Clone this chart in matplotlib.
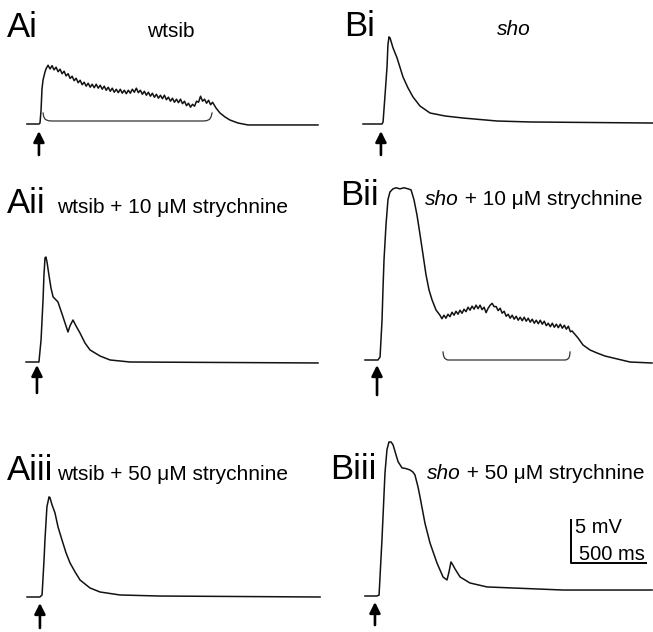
import numpy as np
import matplotlib.pyplot as plt

plt.rcParams["font.family"] = ["Liberation Sans", "DejaVu Sans"]

W, H = 653, 632
MS_PER_PX = 500 / 76      # from the 500 ms scale bar
MV_PER_PX = 5 / 44        # from the 5 mV scale bar
DT = 13.2                 # ms between samples in the noisy stretches

# ---------------- traces: time (ms, from stimulus), voltage (mV, from rest)
# Ai  wtsib
ai_rise_t = [-86, -7, 0, 7, 13, 20, 33, 40]
ai_rise_v = [0, 0, 0.11, 1.59, 3.98, 5.0, 5.92, 6.28]
ai_noisy_t0 = 53
ai_noisy_v = [6.68, 6.26, 6.63, 6.15, 6.46, 5.94, 6.23, 5.71, 6.00, 5.46,
              5.72, 5.18, 5.43, 4.92, 5.20, 4.69, 4.97, 4.46, 4.75, 4.30,
              4.64, 4.18, 4.52, 4.12, 4.52, 4.07, 4.41, 3.95, 4.30, 3.83,
              4.18, 3.72, 4.07, 3.61, 3.95, 3.56, 3.95, 3.50, 3.84, 3.44,
              3.84, 3.50, 3.95, 3.61, 4.07, 3.56, 3.84, 3.38, 3.72, 3.27,
              3.61, 3.16, 3.50, 3.04, 3.38, 2.93, 3.27, 2.87, 3.27, 2.76,
              3.05, 2.59, 2.93, 2.47, 2.82, 2.42, 2.82, 2.31, 2.59, 2.08,
              2.36, 1.91, 2.24, 2.02, 2.59, 2.47, 3.16, 2.59, 2.82, 2.36,
              2.70, 2.19, 2.47]
ai_tail_t = [1158, 1184, 1217, 1250, 1303, 1369, 1829]
ai_tail_v = [1.82, 1.25, 0.80, 0.45, 0.11, -0.11, -0.11]
ai_bracket_t = [20, 25, 35, 55, 79, 1066, 1095, 1115, 1125, 1132]
ai_bracket_v = [1.25, 0.80, 0.52, 0.37, 0.34, 0.34, 0.37, 0.52, 0.80, 1.25]

# Bi  sho
bi_t = [-125, 0, 7, 20, 33, 39, 46, 53, 72, 99, 138, 171, 204, 250, 316,
        415, 533, 757, 974, 1783]
bi_v = [0, 0, 0.23, 3.30, 6.48, 8.99, 9.90, 9.78, 8.67, 7.51, 5.35, 4.10,
        3.07, 2.04, 1.25, 0.91, 0.68, 0.34, 0.23, 0.11]

# Aii  wtsib + 10 uM strychnine
aii_t = [-92, -7, 7, 20, 26, 33, 39, 46, 59, 72, 86, 118, 145, 171, 184,
         197, 217, 237, 263, 296, 329, 395, 461, 592, 1829]
aii_v = [0, 0, 2.51, 7.06, 9.86, 11.85, 11.93, 11.38, 9.86, 8.43, 7.40,
         6.83, 5.46, 4.10, 3.41, 4.10, 4.77, 4.10, 3.30, 2.16, 1.37, 0.68,
         0.23, 0, -0.11]

# Bii  sho + 10 uM strychnine
bii_rise_t = [-92, -7, 7, 20, 26, 33, 46, 59, 72, 92, 112, 138, 164, 191,
              211, 230, 250, 270, 290, 309, 329, 349, 375]
bii_rise_v = [0, 0, 0.34, 4.55, 7.96, 11.38, 15.35, 18.22, 19.09, 19.45,
              19.57, 19.45, 19.57, 19.45, 19.33, 18.22, 16.47, 14.24, 11.93,
              9.71, 7.96, 6.83, 5.69]
bii_noisy_t0 = 401
bii_noisy_v = [5.09, 4.69, 5.09, 4.75, 5.20, 4.92, 5.43, 5.09, 5.54, 5.20,
               5.66, 5.31, 5.77, 5.49, 6.00, 5.66, 6.12, 5.78, 6.23, 5.83,
               6.23, 5.72, 6.00, 5.38, 5.88, 6.22, 6.44, 6.06, 6.08, 5.61,
               5.89, 5.32, 5.54, 4.97, 5.20, 4.75, 5.09, 4.64, 4.97, 4.52,
               4.86, 4.46, 4.86, 4.41, 4.75, 4.30, 4.64, 4.18, 4.52, 4.12,
               4.52, 4.07, 4.41, 3.90, 4.18, 3.78, 4.18, 3.72, 4.07, 3.67,
               4.07, 3.61, 3.95, 3.50, 3.84, 3.21]
bii_tail_t = [1270, 1309, 1342, 1388, 1434, 1487, 1540, 1652, 1796]
bii_tail_v = [3.30, 2.51, 1.71, 1.14, 0.80, 0.45, 0.23, -0.23, -0.34]
bii_bracket_t = [421, 425, 432, 445, 454, 1224, 1235, 1248, 1254, 1257]
bii_bracket_v = [0.91, 0.48, 0.20, 0.04, 0, 0, 0.04, 0.20, 0.48, 0.91]

# Aiii  wtsib + 50 uM strychnine
aiii_t = [-92, -7, 7, 20, 26, 39, 53, 59, 72, 92, 112, 138, 165, 191, 224,
          257, 322, 388, 520, 783, 1836]
aiii_v = [0, 0, 0.23, 4.22, 6.48, 10.26, 11.38, 11.30, 10.50, 9.55, 7.96,
          6.48, 5.0, 3.87, 2.85, 1.93, 1.03, 0.57, 0.23, 0.11, 0]

# Biii  sho + 50 uM strychnine
biii_t = [-86, -7, 7, 26, 46, 59, 72, 86, 99, 118, 132, 158, 184, 211, 230,
          243, 263, 276, 309, 342, 388, 428, 454, 467, 480, 493, 507, 540,
          605, 717, 888, 1217, 1803]
biii_v = [0, 0, 0.11, 6.36, 14.0, 16.63, 17.50, 17.50, 17.18, 16.07, 15.27,
          14.56, 14.48, 14.32, 14.08, 13.76, 12.41, 11.30, 8.27, 6.03, 3.75,
          2.16, 1.82, 2.73, 3.87, 3.52, 3.07, 2.16, 1.48, 1.03, 0.91, 0.68,
          0.68]

# stimulus arrows: (time, tip, tail) in each panel's units
arrows = {
    "Ai": (-7, -0.80, -3.52),
    "Bi": (-7, -0.80, -3.52),
    "Aii": (-20, -0.34, -3.52),
    "Bii": (-13, -0.57, -3.98),
    "Aiii": (-7, -0.68, -3.52),
    "Biii": (-20, -0.68, -3.30),
}

scale_ms, scale_mv = 500, 5


def joined(t_a, v_a, t0, noisy, t_b, v_b):
    tn = t0 + DT * np.arange(len(noisy))
    return (np.concatenate([t_a, tn, t_b]),
            np.concatenate([v_a, noisy, v_b]))


fig = plt.figure(figsize=(W / 100, H / 100), dpi=100)


def panel(x0, y0):
    # full-figure axes whose origin (stimulus, rest) sits at pixel x0, y0
    ax = fig.add_axes([0, 0, 1, 1])
    ax.set_xlim(-x0 * MS_PER_PX, (W - x0) * MS_PER_PX)
    ax.set_ylim(-(H - y0) * MV_PER_PX, y0 * MV_PER_PX)
    ax.axis("off")
    ax.patch.set_alpha(0)
    return ax


def trace(ax, t, v):
    ax.plot(t, v, color="#121212", lw=1.1, solid_joinstyle="round")


def stim_arrow(ax, key):
    t, tip, tail = arrows[key]
    ax.annotate("", xy=(t, tip), xytext=(t, tail),
                arrowprops=dict(arrowstyle="-|>", color="black", lw=1.9,
                                mutation_scale=16, shrinkA=0, shrinkB=0))


def text_px(x, y, s, **kw):
    kw.setdefault("fontsize", 15)
    return fig.text(x / W, 1 - y / H, s, va="baseline", **kw)


def mixed_label(x, y, italic, rest):
    first = text_px(x, y, italic, style="italic")
    return plt.annotate(rest, xy=(1, 0), xycoords=first, va="bottom",
                        ha="left", fontsize=15)


ax_ai = panel(40, 124)
t, v = joined(ai_rise_t, ai_rise_v, ai_noisy_t0, ai_noisy_v,
              ai_tail_t, ai_tail_v)
trace(ax_ai, t, v)
ax_ai.plot(ai_bracket_t, ai_bracket_v, color="#333333", lw=0.9)
stim_arrow(ax_ai, "Ai")

ax_bi = panel(382, 124)
trace(ax_bi, bi_t, bi_v)
stim_arrow(ax_bi, "Bi")

ax_aii = panel(40, 362)
trace(ax_aii, aii_t, aii_v)
stim_arrow(ax_aii, "Aii")

ax_bii = panel(379, 360)
t, v = joined(bii_rise_t, bii_rise_v, bii_noisy_t0, bii_noisy_v,
              bii_tail_t, bii_tail_v)
trace(ax_bii, t, v)
ax_bii.plot(bii_bracket_t, bii_bracket_v, color="#333333", lw=0.9)
stim_arrow(ax_bii, "Bii")

ax_aiii = panel(41, 597)
trace(ax_aiii, aiii_t, aiii_v)
stim_arrow(ax_aiii, "Aiii")

ax_biii = panel(378, 596)
trace(ax_biii, biii_t, biii_v)
stim_arrow(ax_biii, "Biii")

# scale bar
sx, sy = 1270, 3.75
ax_biii.plot([sx, sx, sx + scale_ms], [sy + scale_mv, sy, sy],
             color="black", lw=1.4, solid_capstyle="butt")
ax_biii.text(sx + 26, sy + 3.41, f"{scale_mv} mV", fontsize=14.5,
             va="baseline")
ax_biii.text(sx + 53, sy + 0.34, f"{scale_ms} ms", fontsize=14.5,
             va="baseline")

# panel letters and titles
for s, x, y in [("Ai", 7, 37), ("Bi", 344, 36), ("Aii", 7, 213),
                ("Bii", 340, 205), ("Aiii", 7, 480), ("Biii", 330, 479)]:
    text_px(x, y, s, fontsize=25)

text_px(171, 37, "wtsib", ha="center")
text_px(497, 35, "sho", style="italic")
text_px(57, 213, "wtsib + 10 \u03bcM strychnine")
text_px(57, 480, "wtsib + 50 \u03bcM strychnine")
mixed_label(425, 205, "sho", " + 10 \u03bcM strychnine")
mixed_label(427, 479, "sho", " + 50 \u03bcM strychnine")

fig.savefig("out.png", dpi=100, facecolor="white")
